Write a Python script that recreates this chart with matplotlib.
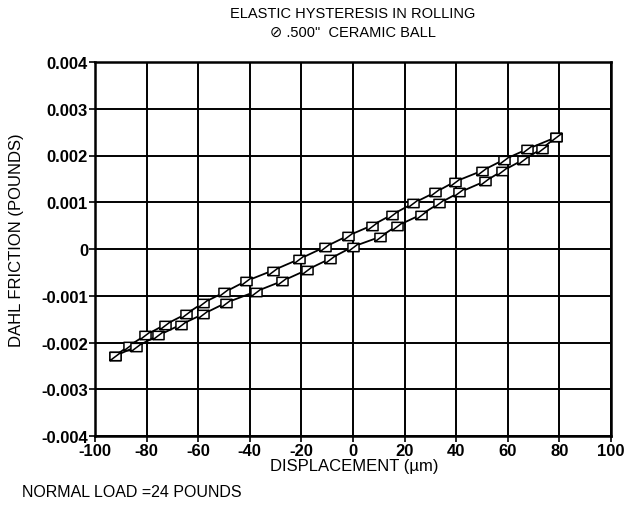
import matplotlib
matplotlib.use("Agg")
import matplotlib.pyplot as plt
from matplotlib.path import Path

plt.rcParams['font.family'] = ['Liberation Sans', 'DejaVu Sans']

# Upper branch (loading) and lower branch (unloading) of the hysteresis loop
upper_x = [-92.4, -87, -80.6, -72.9, -64.7, -58, -50, -41.6, -31.1, -21, -11,
           -2.1, 7.2, 15, 23.4, 31.8, 39.5, 49.9, 58.5, 67.3, 78.7]
upper_y = [-0.00229, -0.00208, -0.00185, -0.00162, -0.00139, -0.00115, -0.00093,
           -0.00069, -0.00046, -0.00022, 0.00004, 0.00028, 0.00050, 0.00073,
           0.00098, 0.00121, 0.00144, 0.00167, 0.00191, 0.00213, 0.00239]
lower_x = [-92.4, -84, -75.5, -66.8, -58, -49.2, -37.7, -27.6, -18, -9, 0,
           10.5, 16.9, 26.2, 33.5, 41.2, 51.2, 57.6, 65.7, 73.1, 78.7]
lower_y = [-0.00229, -0.00209, -0.00185, -0.00162, -0.00139, -0.00115, -0.00091,
           -0.00069, -0.00045, -0.00021, 0.00005, 0.00026, 0.00049, 0.00073,
           0.00098, 0.00121, 0.00145, 0.00166, 0.00190, 0.00214, 0.00239]

x_ticks = [-100, -80, -60, -40, -20, 0, 20, 40, 60, 80, 100]
y_ticks = [-0.004, -0.003, -0.002, -0.001, 0, 0.001, 0.002, 0.003, 0.004]
y_tick_labels = ['-0.004', '-0.003', '-0.002', '-0.001', '0', '0.001', '0.002', '0.003', '0.004']

fig = plt.figure(figsize=(6.3, 5.06), dpi=100)
ax = fig.add_axes([95/630, 1-437/506, (611-95)/630, (437-63)/506])

verts = [(-1, -0.75), (1, -0.75), (1, 0.75), (-1, 0.75), (-1, -0.75),
         (-1, -0.75), (1, 0.75)]
codes = [Path.MOVETO, Path.LINETO, Path.LINETO, Path.LINETO, Path.CLOSEPOLY,
         Path.MOVETO, Path.LINETO]
mk = Path(verts, codes)

for xs, ys in [(upper_x, upper_y), (lower_x, lower_y)]:
    ax.plot(xs, ys, color='black', lw=1.3, marker=mk, markersize=8,
            markerfacecolor='white', markeredgecolor='black', markeredgewidth=1.1,
            zorder=3)

ax.set_xlim(-100, 100)
ax.set_ylim(-0.004, 0.004)
ax.set_xticks(x_ticks)
ax.set_xticklabels([str(t) for t in x_ticks], fontsize=12, fontweight='bold')
ax.set_yticks(y_ticks)
ax.set_yticklabels(y_tick_labels, fontsize=12, fontweight='bold')
ax.tick_params(direction='out', length=4, width=1.2, pad=1, color='black')
ax.grid(True, color='black', lw=1.4)
ax.set_axisbelow(True)
for s in ax.spines.values():
    s.set_linewidth(1.8)

fig.text(353/630, 1-14/506, 'ELASTIC HYSTERESIS IN ROLLING', ha='center', va='center', fontsize=10.5)
fig.text(353/630, 1-33/506, '\u2298 .500"  CERAMIC BALL', ha='center', va='center', fontsize=10.5)
fig.text(354/630, 1-467/506, 'DISPLACEMENT (\u00b5m)', ha='center', va='center', fontsize=12)
fig.text(17/630, 1-240/506, 'DAHL FRICTION (POUNDS)', ha='center', va='center', rotation=90, fontsize=12)
fig.text(22/630, 1-493/506, 'NORMAL LOAD =24 POUNDS', ha='left', va='center', fontsize=11.5)

fig.savefig('out.png', dpi=100)
